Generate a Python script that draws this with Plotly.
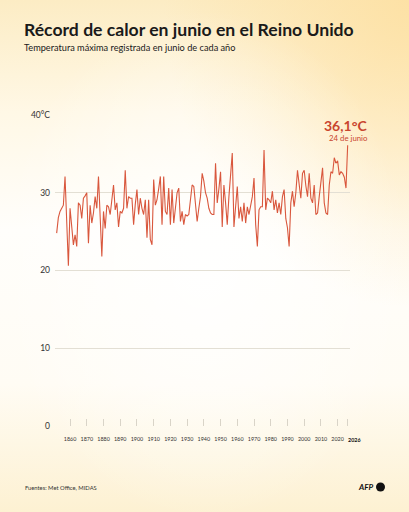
import base64
import plotly.graph_objects as go

years = list(range(1852, 2027))
temps = [
    24.8, 26.8, 27.6, 28.0, 28.4, 32.1, 26.0, 20.6,            # 1852-1859
    28.0, 25.5, 23.3, 24.6, 23.1, 28.7, 28.4, 26.7, 29.3, 29.6,  # 1860-1869
    30.0, 23.5, 28.4, 26.1, 27.4, 29.5, 28.0, 32.1, 26.5, 21.8,  # 1870-1879
    27.6, 25.4, 28.4, 28.2, 27.2, 28.8, 31.0, 27.8, 28.7, 25.6,  # 1880-1889
    27.6, 27.4, 28.0, 32.9, 28.0, 29.5, 29.3, 29.3, 25.9, 28.5,  # 1890-1899
    30.4, 27.2, 29.3, 28.0, 27.2, 29.1, 24.2, 29.1, 24.0, 23.3,  # 1900-1909
    31.7, 28.4, 29.1, 30.5, 32.1, 25.9, 32.1, 27.6, 27.2, 30.6,  # 1910-1919
    25.9, 30.4, 26.1, 28.0, 30.0, 30.6, 26.3, 27.6, 25.9, 27.2,  # 1920-1929
    27.0, 27.2, 29.0, 31.0, 30.8, 28.4, 26.3, 28.0, 29.5, 32.5,  # 1930-1939
    31.5, 30.0, 29.3, 28.0, 27.4, 27.2, 27.2, 33.8, 28.7, 30.5,  # 1940-1949
    32.7, 25.6, 31.0, 28.7, 25.9, 29.5, 32.0, 35.1, 25.6, 28.5,  # 1950-1959
    30.8, 26.7, 28.2, 26.3, 28.7, 26.1, 28.2, 27.2, 28.2, 29.5,  # 1960-1969
    31.9, 25.9, 23.1, 27.8, 28.2, 28.2, 35.5, 27.8, 29.3, 29.1,  # 1970-1979
    28.7, 30.2, 27.8, 29.1, 27.4, 28.7, 27.2, 29.5, 30.4, 26.7,  # 1980-1989
    25.5, 23.1, 28.7, 30.2, 28.2, 30.0, 32.9, 30.7, 29.3, 32.5,  # 1990-1999
    32.9, 30.9, 29.5, 32.5, 29.3, 28.7, 31.0, 27.2, 27.4, 29.5,  # 2000-2009
    31.7, 33.2, 28.7, 27.4, 27.2, 31.0, 32.7, 32.5, 34.5, 33.8,  # 2010-2019
    34.1, 32.3, 32.7, 32.5, 32.0, 30.6, 36.1,                    # 2020-2026
]

x_tickvals = [1860, 1870, 1880, 1890, 1900, 1910, 1920, 1930, 1940, 1950,
              1960, 1970, 1980, 1990, 2000, 2010, 2020, 2026]
x_ticktext = [str(v) for v in x_tickvals[:-1]] + [""]
last_year_label = "2026"
y_tickvals = [0, 10, 20, 30, 40]
y_ticktext = ["0", "10", "20", "30", "40°C"]

title = "Récord de calor en junio en el Reino Unido"
subtitle = "Temperatura máxima registrada en junio de cada año"
record_label = "36,1°C"
record_date = "24 de junio"
source = "Fuentes: Met Office, MIDAS"

LINE = "#d9573d"
RED = "#c9452e"
FONT = "Lato"

svg = """<svg xmlns='http://www.w3.org/2000/svg' width='409' height='512' viewBox='0 0 409 512'>
<defs>
<linearGradient id='v' x1='0' y1='0' x2='0' y2='1'>
<stop offset='0' stop-color='#fcecc4'/>
<stop offset='0.22' stop-color='#fff8e6'/>
<stop offset='0.45' stop-color='#fffefb'/>
<stop offset='0.75' stop-color='#fffcf4'/>
<stop offset='1' stop-color='#fdf1d2'/>
</linearGradient>
<radialGradient id='tr' cx='1' cy='0' r='0.6'>
<stop offset='0' stop-color='#fde0a2' stop-opacity='0.9'/>
<stop offset='1' stop-color='#fde0a2' stop-opacity='0'/>
</radialGradient>
<radialGradient id='c' cx='0.5' cy='0.52' r='0.5'>
<stop offset='0' stop-color='#ffffff' stop-opacity='0.9'/>
<stop offset='1' stop-color='#ffffff' stop-opacity='0'/>
</radialGradient>
</defs>
<rect width='409' height='512' fill='url(#v)'/>
<rect width='409' height='512' fill='url(#tr)'/>
<rect width='409' height='512' fill='url(#c)'/>
</svg>"""
bg = "data:image/svg+xml;base64," + base64.b64encode(svg.encode()).decode()

PW, PH, L, T = 295, 311, 55, 115


def px(x):
    return (x - L) / PW


def py(y):
    return 1 - (y - T) / PH


fig = go.Figure()
fig.add_trace(go.Scatter(x=years, y=temps, mode="lines",
                         line=dict(color=LINE, width=1.1), hoverinfo="skip"))

fig.update_layout(
    width=409, height=512,
    margin=dict(l=L, r=409 - L - PW, t=T, b=512 - T - PH),
    paper_bgcolor="#fffaf0", plot_bgcolor="rgba(0,0,0,0)",
    showlegend=False,
    font=dict(family=FONT, color="#333333"),
    images=[dict(source=bg, xref="paper", yref="paper", x=px(0), y=py(0),
                 sizex=409 / PW, sizey=512 / PH, sizing="stretch", layer="below",
                 xanchor="left", yanchor="top")],
    xaxis=dict(range=[1851, 2027.4], tickvals=x_tickvals, ticktext=x_ticktext,
               tickangle=0, showgrid=False, zeroline=False, showline=False,
               ticks="inside", ticklen=7, tickcolor="#d9d4c8", tickwidth=1,
               ticklabelstandoff=9,
               tickfont=dict(size=5.4, color="#333333"), fixedrange=True),
    yaxis=dict(range=[0, 40], tickvals=y_tickvals, ticktext=y_ticktext,
               showgrid=True, gridcolor="#e3dfd4", gridwidth=1, zeroline=False,
               showline=False, ticks="", ticklabelstandoff=4,
               tickfont=dict(size=8.5, color="#333333"), fixedrange=True),
)

fig.add_annotation(text=f"<b>{last_year_label}</b>", xref="paper", yref="paper",
                   x=px(354), y=py(440), xanchor="center", yanchor="middle",
                   showarrow=False, font=dict(size=5.4, color="#111111", family=FONT))
fig.add_annotation(text=f"<b>{title}</b>", xref="paper", yref="paper",
                   x=px(22), y=py(29), xanchor="left", yanchor="middle",
                   showarrow=False, font=dict(size=17.6, color="#1a1a1a", family=FONT))
fig.add_annotation(text=subtitle, xref="paper", yref="paper",
                   x=px(22), y=py(48), xanchor="left", yanchor="middle",
                   showarrow=False, font=dict(size=9.2, color="#1a1a1a", family=FONT))
fig.add_annotation(text=f"<b>{record_label}</b>", xref="paper", yref="paper",
                   x=px(369), y=py(125), xanchor="right", yanchor="middle",
                   showarrow=False, font=dict(size=14, color=RED, family=FONT))
fig.add_annotation(text=record_date, xref="paper", yref="paper",
                   x=px(370), y=py(138), xanchor="right", yanchor="middle",
                   showarrow=False, font=dict(size=7.8, color=RED, family=FONT))
fig.add_annotation(text=source, xref="paper", yref="paper",
                   x=px(23), y=py(487), xanchor="left", yanchor="middle",
                   showarrow=False, font=dict(size=5.8, color="#333333", family=FONT))
fig.add_annotation(text="<b><i>AFP</i></b>", xref="paper", yref="paper",
                   x=px(375), y=py(487), xanchor="right", yanchor="middle",
                   showarrow=False, font=dict(size=8, color="#111111", family=FONT))
fig.add_shape(type="circle", xref="paper", yref="paper",
              x0=px(376), x1=px(385), y0=py(491.5), y1=py(482.5),
              fillcolor="#111111", line=dict(width=0))

fig.write_html("out.html")
